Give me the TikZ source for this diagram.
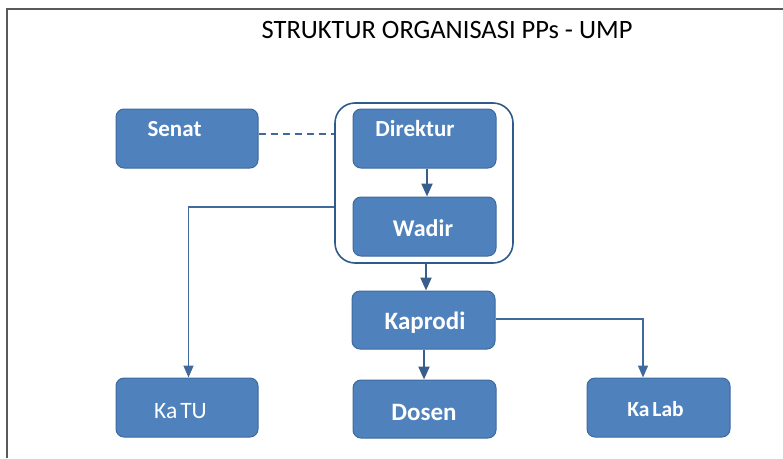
\documentclass[tikz,border=0pt]{standalone}
\usepackage{fontspec}
\setmainfont{Carlito}
\usetikzlibrary{arrows.meta}
\definecolor{boxfill}{HTML}{4F81BD}
\definecolor{boxline}{HTML}{3D6A9E}
\definecolor{conn}{HTML}{3F6A9B}
\definecolor{arrc}{HTML}{375E8C}
\definecolor{grp}{HTML}{2E5A8C}
\definecolor{frame}{HTML}{5A5A5A}
\tikzset{
  box/.style={draw=boxline, line width=1pt, fill=boxfill, rounded corners=8pt, inner sep=0pt, minimum width=143pt, minimum height=59pt},
  lbl/.style={anchor=base, text=white, inner sep=0pt},
  conline/.style={draw=conn, line width=1.6pt},
  arr/.style={draw=arrc, line width=2.2pt, -{Triangle[width=11pt,length=13pt]}},
}
\begin{document}
\begin{tikzpicture}[x=1pt,y=-1pt]
\useasboundingbox (0,0) rectangle (783,458);
\draw[frame, line width=2pt] (6.5,458) -- (6.5,8.5) -- (783,8.5);
\node[anchor=base, inner sep=0pt, font=\fontsize{26.5}{30}\selectfont] (title) at (447,38) {STRUKTUR ORGANISASI PPs - UMP};

\node[draw=grp, line width=1.6pt, fill=white, rounded corners=20pt, inner sep=0pt, minimum width=178pt, minimum height=160pt] (group) at (424,183) {};

\node[box, minimum width=142pt] (senat) at (187,138.5) {};
\node[box] (direktur) at (424.5,138.5) {};
\node[box] (wadir) at (424.5,226.5) {};
\node[box, minimum height=58pt] (kaprodi) at (423.5,320) {};
\node[box, minimum width=142pt] (katu) at (187,407.5) {};
\node[box, minimum height=58pt] (dosen) at (424.5,409) {};
\node[box] (kalab) at (658.5,407.5) {};

\node[lbl, font=\fontsize{23}{26}\selectfont\bfseries] (senatT) at (174.5,136) {Senat};
\node[lbl, font=\fontsize{23}{26}\selectfont\bfseries] (direkturT) at (415,136) {Direktur};
\node[lbl, font=\fontsize{24}{26}\selectfont\bfseries] (wadirT) at (423,236) {Wadir};
\node[lbl, font=\fontsize{25}{26}\selectfont\bfseries] (kaprodiT) at (425,329) {Kaprodi};
\node[lbl, font=\fontsize{25}{26}\selectfont\bfseries] (dosenT) at (424,420.5) {Dosen};
\node[lbl, font=\fontsize{21.5}{26}\selectfont\bfseries] (kalabT) at (655.5,416) {Ka{\kern3pt}Lab};
\node[lbl, font=\fontsize{23.5}{26}\selectfont] (katuT) at (180.5,418) {Ka{\kern3pt}TU};

\draw[conline, dash pattern=on 7pt off 5pt] ([yshift=4.5pt]senat.east) -- ([yshift=4.5pt]senat.east -| group.west);
\draw[conline, -{Triangle[width=10pt,length=12pt]}] ([yshift=-24pt]group.west) -| ([xshift=1.5pt]katu.north);
\draw[conline, -{Triangle[width=10pt,length=12pt]}] ([yshift=1pt]kaprodi.east) -| ([xshift=-15.5pt]kalab.north);
\draw[arr] ([xshift=2.5pt]direktur.south) -- ([xshift=2.5pt]wadir.north);
\draw[arr] ([xshift=2pt]group.south) -- ([xshift=2.5pt]kaprodi.north);
\draw[arr] ([xshift=0.5pt]kaprodi.south) -- ([xshift=-0.5pt]dosen.north);
\end{tikzpicture}
\end{document}
